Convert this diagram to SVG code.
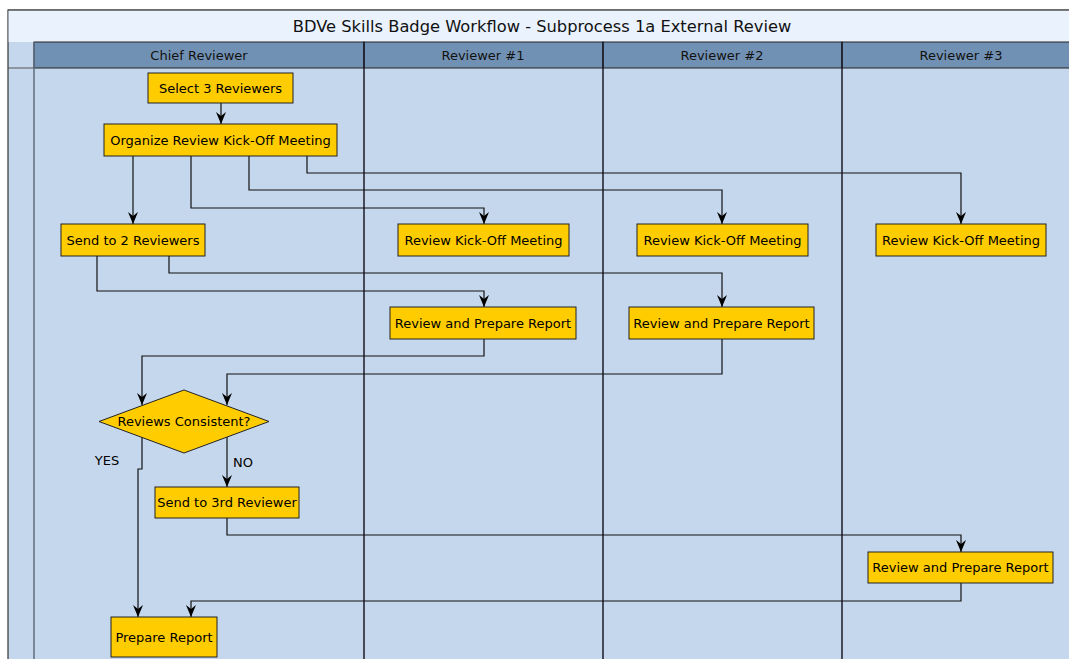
<svg xmlns="http://www.w3.org/2000/svg" width="1069" height="659" viewBox="0 0 1069 659">
<defs>
<style>
.lane{fill:#c5d7ec}
.hdr{fill:#7191b4;stroke:#222;stroke-width:1}
.div{stroke:#1c1c28;stroke-width:1.5}
.node{fill:#ffcc00;stroke:#222;stroke-width:1}
.t{font-family:"DejaVu Sans",sans-serif;font-size:13px;fill:#000;text-anchor:middle}
.h{font-family:"DejaVu Sans",sans-serif;font-size:13px;fill:#111;text-anchor:middle}
.c{fill:none;stroke:#111;stroke-width:1.2}
</style>
<marker id="arr" markerWidth="12" markerHeight="12" refX="12" refY="5" orient="auto" markerUnits="userSpaceOnUse" viewBox="0 0 12 10">
<path d="M0,0 L12,5 L0,10 L4,5 z" fill="#000"/>
</marker>
</defs>
<rect x="0" y="0" width="1069" height="659" fill="#ffffff"/>
<g id="pool">
<rect x="8" y="10" width="1070" height="660" fill="#c5d7ec" stroke="#333" stroke-width="1.2"/>
<rect x="8.6" y="10.6" width="1070" height="31.4" fill="#eaf2fd"/>
<line x1="8" y1="10" x2="1069" y2="10" stroke="#555" stroke-width="1.2"/>
<text x="542" y="32" font-family="DejaVu Sans,sans-serif" font-size="16.3" fill="#111" text-anchor="middle">BDVe Skills Badge Workflow - Subprocess 1a External Review</text>
<line x1="8" y1="68" x2="34" y2="68" stroke="#555" stroke-width="1"/>
</g>
<g id="lane-chief">
<rect class="hdr" x="34" y="42" width="330" height="26"/>
<text class="h" x="199" y="60">Chief Reviewer</text>
</g>
<g id="lane-r1">
<rect class="hdr" x="364" y="42" width="239" height="26"/>
<text class="h" x="483" y="60">Reviewer #1</text>
</g>
<g id="lane-r2">
<rect class="hdr" x="603" y="42" width="239" height="26"/>
<text class="h" x="722" y="60">Reviewer #2</text>
</g>
<g id="lane-r3">
<rect class="hdr" x="842" y="42" width="240" height="26"/>
<text class="h" x="961" y="60">Reviewer #3</text>
</g>
<g id="dividers">
<line x1="34" y1="42" x2="34" y2="659" stroke="#5e6c7e" stroke-width="1.5"/>
<line class="div" x1="364" y1="42" x2="364" y2="659"/>
<line class="div" x1="603" y1="42" x2="603" y2="659"/>
<line class="div" x1="842" y1="42" x2="842" y2="659"/>
</g>
<g id="connectors">
<path class="c" d="M221,103 V124" marker-end="url(#arr)"/>
<path class="c" d="M133,156 V224" marker-end="url(#arr)"/>
<path class="c" d="M191,156 V208 H484 V224" marker-end="url(#arr)"/>
<path class="c" d="M249,156 V190 H722 V224" marker-end="url(#arr)"/>
<path class="c" d="M307,156 V173 H961 V224" marker-end="url(#arr)"/>
<path class="c" d="M97,256 V291 H484 V307" marker-end="url(#arr)"/>
<path class="c" d="M169,256 V273 H722 V307" marker-end="url(#arr)"/>
<path class="c" d="M484,339 V356 H142 V405" marker-end="url(#arr)"/>
<path class="c" d="M722,339 V374 H227 V405" marker-end="url(#arr)"/>
<path class="c" d="M227,437 V487" marker-end="url(#arr)"/>
<path class="c" d="M142,437 V469 H138 V617" marker-end="url(#arr)"/>
<path class="c" d="M227,518 V535 H961 V552" marker-end="url(#arr)"/>
<path class="c" d="M961,583 V601 H191 V617" marker-end="url(#arr)"/>
<text class="t" x="107" y="465">YES</text>
<text class="t" x="243" y="467">NO</text>
</g>
<g id="n-select">
<rect class="node" x="148" y="73" width="145" height="30"/>
<text class="t" x="220.5" y="92.5">Select 3 Reviewers</text>
</g>
<g id="n-organize">
<rect class="node" x="104" y="124" width="233" height="32"/>
<text class="t" x="220.5" y="144.5">Organize Review Kick-Off Meeting</text>
</g>
<g id="n-send2">
<rect class="node" x="61" y="224" width="144" height="32"/>
<text class="t" x="133" y="244.5">Send to 2 Reviewers</text>
</g>
<g id="n-kick1">
<rect class="node" x="398" y="224" width="171" height="32"/>
<text class="t" x="483.5" y="244.5">Review Kick-Off Meeting</text>
</g>
<g id="n-kick2">
<rect class="node" x="637" y="224" width="171" height="32"/>
<text class="t" x="722.5" y="244.5">Review Kick-Off Meeting</text>
</g>
<g id="n-kick3">
<rect class="node" x="876" y="224" width="170" height="32"/>
<text class="t" x="961" y="244.5">Review Kick-Off Meeting</text>
</g>
<g id="n-rep1">
<rect class="node" x="390" y="307" width="186" height="32"/>
<text class="t" x="483" y="327.5">Review and Prepare Report</text>
</g>
<g id="n-rep2">
<rect class="node" x="629" y="307" width="185" height="32"/>
<text class="t" x="721.5" y="327.5">Review and Prepare Report</text>
</g>
<g id="n-decision">
<polygon class="node" points="184,390 269,421.5 184,453 99,421.5"/>
<text class="t" x="184" y="426">Reviews Consistent?</text>
</g>
<g id="n-send3">
<rect class="node" x="155" y="487" width="144" height="31"/>
<text class="t" x="227" y="507">Send to 3rd Reviewer</text>
</g>
<g id="n-rep3">
<rect class="node" x="868" y="552" width="185" height="31"/>
<text class="t" x="960.5" y="572">Review and Prepare Report</text>
</g>
<g id="n-prepare">
<rect class="node" x="111" y="617" width="106" height="40"/>
<text class="t" x="164" y="641.5">Prepare Report</text>
</g>
</svg>
